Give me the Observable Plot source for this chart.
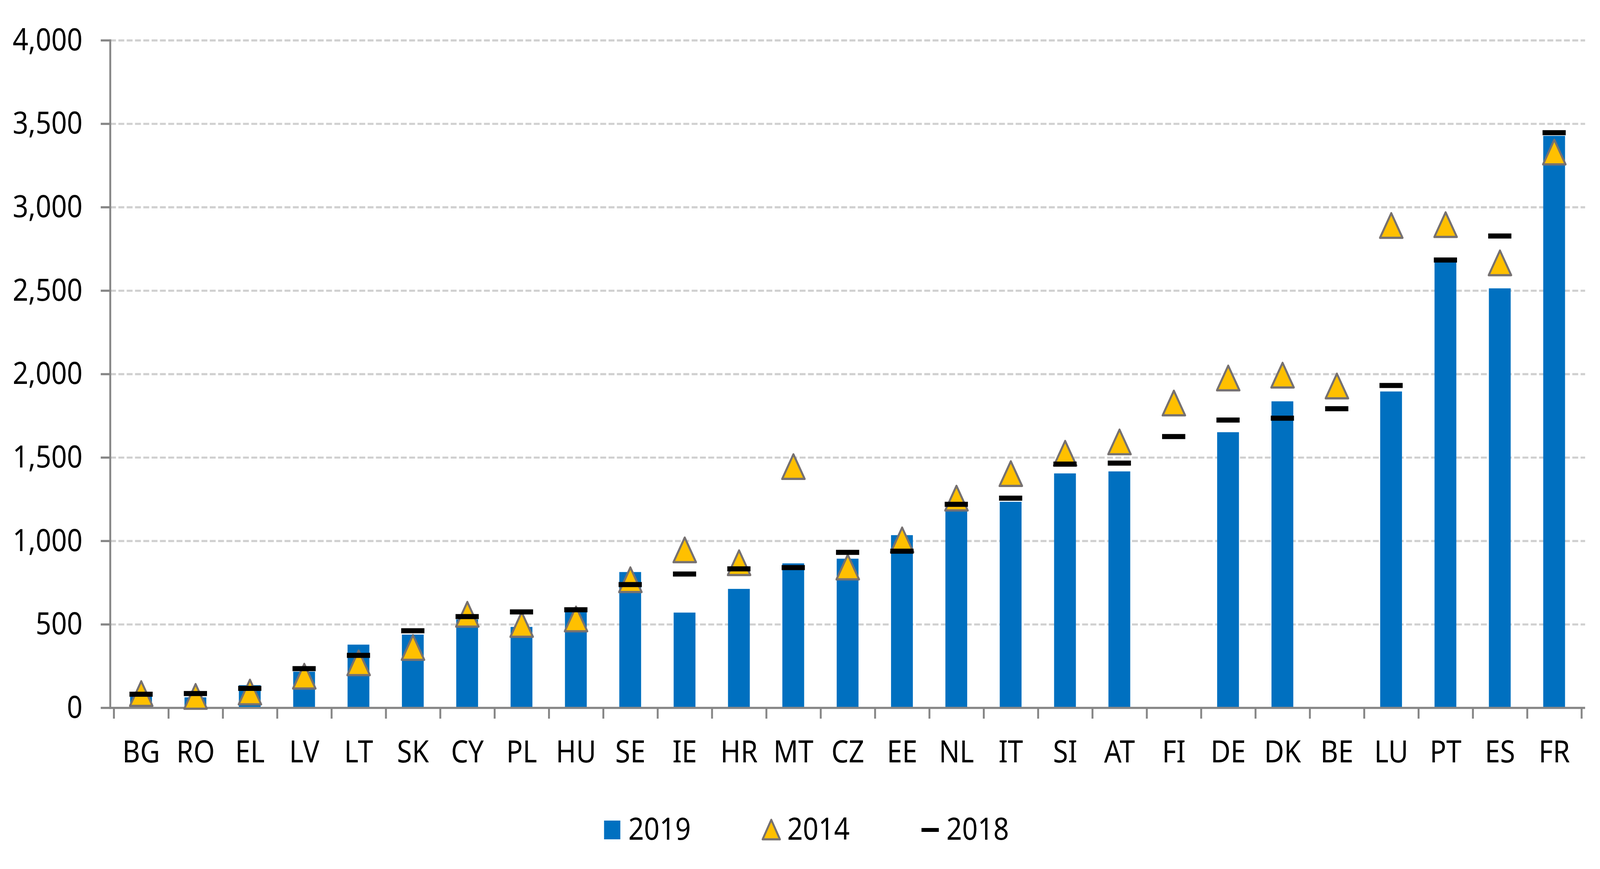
<!DOCTYPE html>
<html>
<head>
<meta charset="utf-8">
<script src="https://cdn.jsdelivr.net/npm/d3@7"></script>
<script src="https://cdn.jsdelivr.net/npm/@observablehq/plot@0.6"></script>
<style>
html, body { margin: 0; padding: 0; background: #fff; overflow: hidden; }
#chart, #legend { display: block; line-height: 0; }
svg { display: block; }
</style>
</head>
<body>
<div id="chart"></div>
<div id="legend"></div>
<script>
const categories = ["BG","RO","EL","LV","LT","SK","CY","PL","HU","SE","IE","HR","MT","CZ","EE","NL","IT","SI","AT","FI","DE","DK","BE","LU","PT","ES","FR"];
const values2019 = [80, 62, 135, 216, 378, 438, 529, 484, 577, 813, 570, 712, 865, 893, 1034, 1191, 1234, 1404, 1416, null, 1651, 1836, null, 1895, 2672, 2513, 3427];
const values2014 = [86, 69, 95, 190, 270, 362, 561, 500, 533, 768, 947, 870, 1446, 844, 1007, 1257, 1404, 1526, 1594, 1827, 1977, 1994, 1929, 2891, 2896, 2667, 3331];
const values2018 = [82, 86, 117, 235, 315, 462, 547, 575, 588, 739, 802, 833, 841, 932, 939, 1220, 1257, 1461, 1467, 1626, 1725, 1736, 1793, 1932, 2684, 2828, 3447];
const yTicks = [0, 500, 1000, 1500, 2000, 2500, 3000, 3500, 4000];
const seriesNames = ["2019", "2014", "2018"];

const FONT = "'Noto Sans', 'Open Sans', sans-serif";
const FS = 79;
const data = categories.map((c, i) => ({country: c, v2019: values2019[i], v2014: values2014[i], v2018: values2018[i]}));

const W = 4622, TOTAL_H = 2225, H = 1990, mL = 318, mR = 43, mT = 103, mB = 178;
const LEG_H = TOTAL_H - H;
const step = (W - mL - mR) / categories.length;
const AXIS = "#868686";
const BLUE = "#0070C0", GOLD = "#FFC000", TRI_STROKE = "#767171";

// Excel-style triangle marker, centred on its bounding box
const triangle = {
  draw(ctx, size) {
    const r = Math.sqrt(size / Math.PI);
    const h = r * 0.97;
    ctx.moveTo(0, -h);
    ctx.lineTo(r, h);
    ctx.lineTo(-r, h);
    ctx.closePath();
  }
};

const chart = Plot.plot({
  width: W, height: H,
  marginLeft: mL, marginRight: mR, marginTop: mT, marginBottom: mB,
  style: {fontFamily: FONT, fontSize: FS + "px", color: "#000", background: "#fff", overflow: "visible"},
  x: {type: "band", domain: categories, paddingInner: 0.6, paddingOuter: 0.3, label: null},
  y: {domain: [0, 4000], label: null},
  marks: [
    Plot.gridY(yTicks.filter(d => d > 0), {stroke: "#d0d0d0", strokeOpacity: 1, strokeWidth: 5.3, strokeDasharray: "17,7"}),
    Plot.barY(data.filter(d => d.v2019 != null), {x: "country", y: "v2019", fill: BLUE}),
    Plot.ruleY([0], {stroke: AXIS, strokeWidth: 5.3}),
    Plot.frame({anchor: "left", stroke: AXIS, strokeWidth: 5.5}),
    Plot.axisY({ticks: yTicks, tickSize: 27, tickPadding: 53, tickFormat: d3.format(","), stroke: AXIS, strokeWidth: 5.5, fontSize: FS, label: null}),
    Plot.axisX({tickSize: 28, tickFormat: () => "", dx: step / 2, stroke: AXIS, strokeWidth: 5.5, label: null}),
    Plot.axisX([categories[0]], {tickSize: 28, tickFormat: () => "", dx: -step / 2, stroke: AXIS, strokeWidth: 5.5, label: null}),
    Plot.axisX({tickSize: 0, tickPadding: 83, fontSize: FS, label: null}),
    Plot.dot(data, {x: "country", y: "v2014", symbol: triangle, r: 32.5, fill: GOLD, stroke: TRI_STROKE, strokeWidth: 5.7, strokeLinejoin: "round"}),
    Plot.tickY(data, {x: "country", y: "v2018", stroke: "#000", strokeWidth: 13, insetLeft: -2, insetRight: -2})
  ]
});
// Fit the whole 4622x2225 design to the window
chart.setAttribute("viewBox", `0 0 ${W} ${H}`);
chart.setAttribute("preserveAspectRatio", "none");
chart.style.maxWidth = "none";
chart.style.width = "100vw";
chart.style.height = `calc(100vh * ${H} / ${TOTAL_H})`;
document.getElementById("chart").appendChild(chart);

// Legend (separate SVG below the chart)
const NS = "http://www.w3.org/2000/svg";
const lg = document.createElementNS(NS, "svg");
lg.setAttribute("viewBox", `0 0 ${W} ${LEG_H}`);
lg.setAttribute("preserveAspectRatio", "none");
lg.setAttribute("font-family", FONT);
lg.setAttribute("font-size", FS);
lg.style.width = "100vw";
lg.style.height = `calc(100vh * ${LEG_H} / ${TOTAL_H})`;
lg.style.background = "#fff";
lg.innerHTML = `
  <rect x="1745" y="111" width="47" height="48" fill="${BLUE}"/>
  <path d="M2228,109 L2253,159 L2203,159 Z" fill="${GOLD}" stroke="${TRI_STROKE}" stroke-width="5.5" stroke-linejoin="round"/>
  <rect x="2662" y="130" width="50" height="10" fill="#000"/>
`;
const textX = [1815, 2274, 2734];
seriesNames.forEach((name, i) => {
  const t = document.createElementNS(NS, "text");
  t.setAttribute("x", textX[i]);
  t.setAttribute("y", 160);
  t.setAttribute("fill", "#000");
  t.textContent = name;
  lg.appendChild(t);
});
document.getElementById("legend").appendChild(lg);
</script>
</body>
</html>
